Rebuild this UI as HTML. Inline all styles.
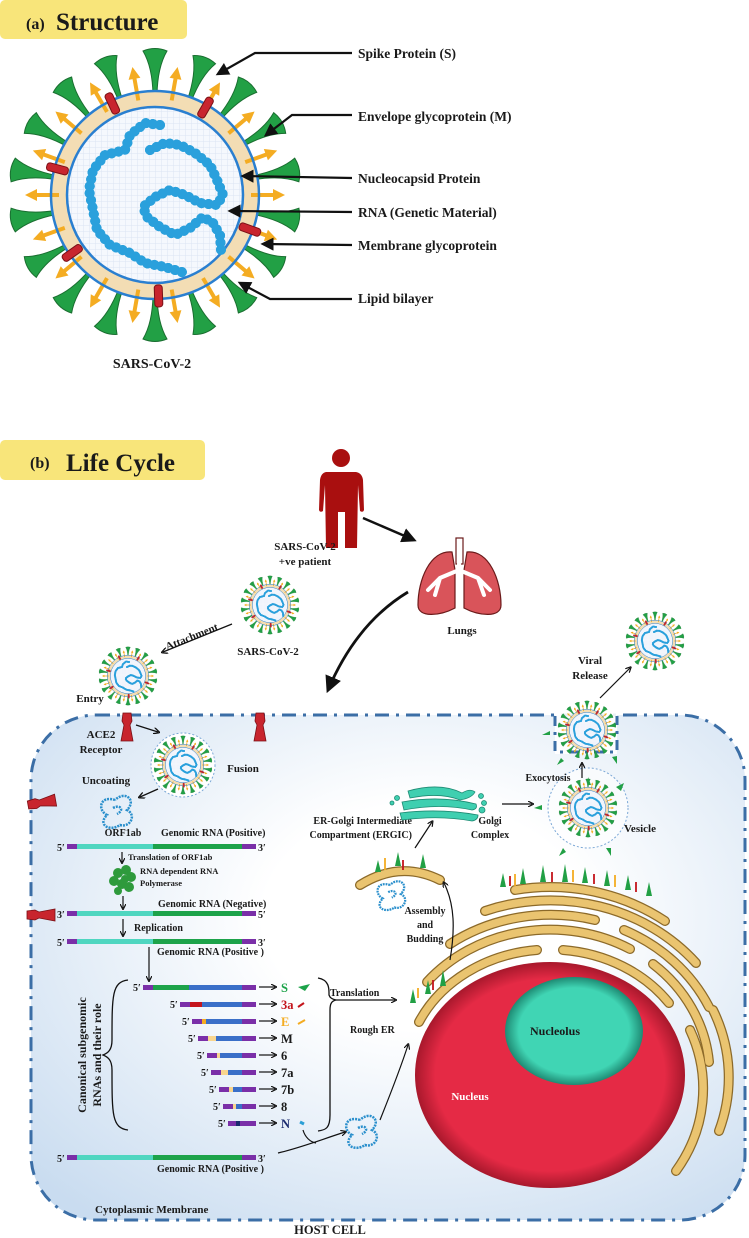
<!DOCTYPE html>
<html><head><meta charset="utf-8"><style>
html,body{margin:0;padding:0;background:#fff}
svg{display:block}
text{font-family:"Liberation Serif",serif;font-weight:bold;fill:#1a1a1a}
</style></head><body>
<svg width="749" height="1238" viewBox="0 0 749 1238" xmlns="http://www.w3.org/2000/svg">
<defs>
<marker id="ah" viewBox="0 0 10 10" refX="8" refY="5" markerWidth="6" markerHeight="6" orient="auto"><path d="M0,0 L10,5 L0,10 z" fill="#111"/></marker>
<marker id="ahb" viewBox="0 0 10 10" refX="7" refY="5" markerWidth="5" markerHeight="5" orient="auto"><path d="M0,0 L10,5 L0,10" fill="none" stroke="#111" stroke-width="2"/></marker>
<radialGradient id="cellg" cx="0.55" cy="0.4" r="0.75"><stop offset="0.3" stop-color="#ffffff"/><stop offset="1" stop-color="#c9dcf0"/></radialGradient>
<radialGradient id="nucg" cx="0.5" cy="0.5" r="0.5"><stop offset="0.85" stop-color="#e52a45"/><stop offset="1" stop-color="#a8182c"/></radialGradient>
<radialGradient id="nolg" cx="0.5" cy="0.5" r="0.5"><stop offset="0.8" stop-color="#40d5b4"/><stop offset="1" stop-color="#1e8a73"/></radialGradient>
<pattern id="grid" width="6" height="6" patternUnits="userSpaceOnUse"><rect width="6" height="6" fill="#f5f8fd"/><path d="M0,0H6M0,0V6" stroke="#dbe4f2" stroke-width="1"/></pattern>
<g id="spk"><path d="M-2,-100 L2,-100 Q2.5,-128 12,-144 Q0,-149 -12,-144 Q-2.5,-128 -2,-100Z" fill="#22a045" stroke="#1a6e30" stroke-width="1"/></g>
<g id="mp"><rect x="-2" y="-120" width="4" height="24" fill="#f4ac22"/><path d="M-6,-118 L0,-130 L6,-118Z" fill="#f4ac22"/></g>
<g id="rb"><rect x="-4" y="-112" width="8" height="22" rx="3" fill="#c8252e" stroke="#7a1016" stroke-width="1"/></g>
<g id="vir">
<g><use href="#spk"/><use href="#spk" transform="rotate(20)"/><use href="#spk" transform="rotate(40)"/><use href="#spk" transform="rotate(60)"/><use href="#spk" transform="rotate(80)"/><use href="#spk" transform="rotate(100)"/><use href="#spk" transform="rotate(120)"/><use href="#spk" transform="rotate(140)"/><use href="#spk" transform="rotate(160)"/><use href="#spk" transform="rotate(180)"/><use href="#spk" transform="rotate(200)"/><use href="#spk" transform="rotate(220)"/><use href="#spk" transform="rotate(240)"/><use href="#spk" transform="rotate(260)"/><use href="#spk" transform="rotate(280)"/><use href="#spk" transform="rotate(300)"/><use href="#spk" transform="rotate(320)"/><use href="#spk" transform="rotate(340)"/></g>
<circle r="96" fill="none" stroke="#f3ddb4" stroke-width="16"/>
<g transform="rotate(10)"><use href="#mp"/><use href="#mp" transform="rotate(20)"/><use href="#mp" transform="rotate(40)"/><use href="#mp" transform="rotate(60)"/><use href="#mp" transform="rotate(80)"/><use href="#mp" transform="rotate(100)"/><use href="#mp" transform="rotate(120)"/><use href="#mp" transform="rotate(140)"/><use href="#mp" transform="rotate(160)"/><use href="#mp" transform="rotate(180)"/><use href="#mp" transform="rotate(200)"/><use href="#mp" transform="rotate(220)"/><use href="#mp" transform="rotate(240)"/><use href="#mp" transform="rotate(260)"/><use href="#mp" transform="rotate(280)"/><use href="#mp" transform="rotate(300)"/><use href="#mp" transform="rotate(320)"/><use href="#mp" transform="rotate(340)"/></g>
<circle r="104" fill="none" stroke="#2a7fd0" stroke-width="2.5"/>
<circle r="88" fill="url(#grid)" stroke="#2a7fd0" stroke-width="2.5"/>
<use href="#rb" transform="rotate(-25)"/><use href="#rb" transform="rotate(30)"/><use href="#rb" transform="rotate(-75)"/><use href="#rb" transform="rotate(110)"/><use href="#rb" transform="rotate(-125)"/><use href="#rb" transform="rotate(178)"/>
<path id="rna" d="M5,-70 L-10,-72 L-25,-60 L-30,-45 L-50,-40 L-62,-25 L-66,-5 L-62,15 L-58,35 L-45,50 L-25,58 L-10,68 L10,72 L30,78 M-5,-45 L10,-52 L25,-50 L40,-42 L55,-30 L62,-15 L68,0 L62,10 L45,8 L30,0 L15,-5 L0,2 L-12,12 L-8,22 L5,32 L20,40 L35,33 L48,22 L58,28 L65,40 L66,55" fill="none" stroke="#2aa0dc" stroke-width="10" stroke-linecap="round" stroke-linejoin="round" stroke-dasharray="0.1 7"/>
<use href="#rna" stroke="#e23a4a" stroke-width="1.5" stroke-dasharray="none"/>
</g>
<g id="blob"><path d="M0,0 C-15,-5 -18,10 -8,15 C-18,25 -5,32 5,25 C15,28 22,15 12,10 C22,0 10,-10 0,0 M-2,8 C5,4 10,10 2,14" fill="none" stroke="#2a8fcc" stroke-width="2.5" stroke-dasharray="2 1"/></g>
<g id="ace"><path d="M-4,0 L4,0 L5,8 L3,12 L6,28 L-6,28 L-3,12 L-5,8Z" fill="#c8252e" stroke="#7a1016" stroke-width="0.8"/></g>
</defs>

<rect x="0" y="0" width="187" height="39" rx="5" fill="#f8e57a"/>
<text x="26" y="29" font-size="16">(a)</text><text x="56" y="30" font-size="25">Structure</text>
<use href="#vir" transform="translate(155,195)"/>
<text x="152" y="368" font-size="14" text-anchor="middle">SARS-CoV-2</text>
<g fill="none" stroke="#111" stroke-width="2.2" marker-end="url(#ah)">
<polyline points="352,53 255,53 218,74"/>
<polyline points="352,115 292,115 266,135"/>
<polyline points="352,178 243,176"/>
<polyline points="352,212 230,211"/>
<polyline points="352,245 263,244"/>
<polyline points="352,299 270,299 240,283"/>
</g>
<g font-size="13.5">
<text x="358" y="58">Spike Protein (S)</text>
<text x="358" y="121">Envelope glycoprotein (M)</text>
<text x="358" y="183">Nucleocapsid Protein</text>
<text x="358" y="217">RNA (Genetic Material)</text>
<text x="358" y="250">Membrane glycoprotein</text>
<text x="358" y="303">Lipid bilayer</text>
</g>

<rect x="0" y="440" width="205" height="40" rx="5" fill="#f8e57a"/>
<text x="30" y="468" font-size="16">(b)</text><text x="66" y="471" font-size="25">Life Cycle</text>

<circle cx="341" cy="458" r="9" fill="#a90f0f"/>
<path d="M326,472 L356,472 Q362,473 363,480 L364,510 Q363,513 360,511 L358,485 L357,548 L345,548 L345,512 L338,512 L338,548 L326,548 L325,485 L323,511 Q320,513 319,510 L320,480 Q321,473 326,472Z" fill="#a90f0f"/>
<text x="305" y="550" font-size="11" text-anchor="middle">SARS-CoV-2</text>
<text x="305" y="565" font-size="11" text-anchor="middle">+ve patient</text>
<line x1="363" y1="518" x2="414" y2="540" stroke="#111" stroke-width="2.5" marker-end="url(#ah)"/>
<rect x="456" y="538" width="7" height="26" fill="#fff" stroke="#6b1a1a" stroke-width="1.2"/>
<path d="M452,552 C430,550 418,580 418,605 C418,618 440,616 455,608 L455,570Z" fill="#d9545a" stroke="#6b1a1a" stroke-width="1.2"/>
<path d="M467,552 C489,550 501,580 501,605 C501,618 479,616 464,608 L464,570Z" fill="#d9545a" stroke="#6b1a1a" stroke-width="1.2"/>
<path d="M459,564 L459,570 M459,570 L440,578 L428,590 M440,578 L435,595 M459,570 L478,578 L490,590 M478,578 L484,595" stroke="#fff" stroke-width="4" fill="none" stroke-linecap="round"/>
<text x="462" y="634" font-size="11" text-anchor="middle">Lungs</text>
<path d="M408,592 C370,615 345,650 328,690" fill="none" stroke="#111" stroke-width="2.8" marker-end="url(#ah)"/>

<rect x="31" y="715" width="714" height="505" rx="65" fill="url(#cellg)" stroke="#3b6ea6" stroke-width="3" stroke-dasharray="14 7 3 7"/>
<rect x="555" y="702" width="62" height="52" fill="#fff" opacity="0.9"/>
<path d="M555,716 L555,752 L617,752 L617,716" fill="none" stroke="#3b6ea6" stroke-width="3" stroke-dasharray="10 6 3 6"/>

<use href="#ace" transform="translate(127,713)"/>
<use href="#ace" transform="translate(260,713)"/>
<use href="#ace" transform="translate(28,805) rotate(-100)"/>
<use href="#ace" transform="translate(27,915) rotate(-90)"/>

<use href="#vir" transform="translate(270,605) scale(0.2)"/>
<text x="268" y="655" font-size="11" text-anchor="middle">SARS-CoV-2</text>
<text x="193" y="640" font-size="11" transform="rotate(-22 193 640)" text-anchor="middle">Attachment</text>
<line x1="232" y1="624" x2="163" y2="652" stroke="#111" stroke-width="1.3" marker-end="url(#ahb)"/>
<use href="#vir" transform="translate(128,676) scale(0.2)"/>
<text x="90" y="702" font-size="11" text-anchor="middle">Entry</text>
<text x="101" y="738" font-size="11" text-anchor="middle">ACE2</text>
<text x="101" y="753" font-size="11" text-anchor="middle">Receptor</text>
<line x1="136" y1="725" x2="158" y2="732" stroke="#111" stroke-width="1.3" marker-end="url(#ahb)"/>
<circle cx="183" cy="765" r="32" fill="#fff" stroke="#7aa7d6" stroke-width="1" stroke-dasharray="2 2"/>
<use href="#vir" transform="translate(183,765) scale(0.2)"/>
<text x="243" y="772" font-size="11" text-anchor="middle">Fusion</text>
<text x="106" y="784" font-size="11" text-anchor="middle">Uncoating</text>
<line x1="158" y1="789" x2="140" y2="797" stroke="#111" stroke-width="1.3" marker-end="url(#ahb)"/>
<use href="#blob" transform="translate(115,800)"/>

<g font-size="10">
<text x="57" y="851">5′</text><text x="258" y="851">3′</text>
<text x="123" y="836" text-anchor="middle" font-size="10">ORF1ab</text>
<text x="161" y="836">Genomic RNA (Positive)</text>
</g>
<g>
<rect x="67" y="844" width="10" height="5" fill="#7a2fa8"/><rect x="77" y="844" width="76" height="5" fill="#4fd6c0"/><rect x="153" y="844" width="89" height="5" fill="#1da34a"/><rect x="242" y="844" width="14" height="5" fill="#7a2fa8"/>
<rect x="67" y="911" width="10" height="5" fill="#7a2fa8"/><rect x="77" y="911" width="76" height="5" fill="#4fd6c0"/><rect x="153" y="911" width="89" height="5" fill="#1da34a"/><rect x="242" y="911" width="14" height="5" fill="#7a2fa8"/>
<rect x="67" y="939" width="10" height="5" fill="#7a2fa8"/><rect x="77" y="939" width="76" height="5" fill="#4fd6c0"/><rect x="153" y="939" width="89" height="5" fill="#1da34a"/><rect x="242" y="939" width="14" height="5" fill="#7a2fa8"/>
<rect x="67" y="1155" width="10" height="5" fill="#7a2fa8"/><rect x="77" y="1155" width="76" height="5" fill="#4fd6c0"/><rect x="153" y="1155" width="89" height="5" fill="#1da34a"/><rect x="242" y="1155" width="14" height="5" fill="#7a2fa8"/>
</g>
<line x1="122" y1="852" x2="122" y2="862" stroke="#111" stroke-width="1.2" marker-end="url(#ahb)"/>
<text x="128" y="860" font-size="8.5">Translation of ORF1ab</text>
<g fill="#2e9a3c"><circle cx="118" cy="873" r="5"/><circle cx="126" cy="870" r="5"/><circle cx="131" cy="877" r="5"/><circle cx="114" cy="881" r="5"/><circle cx="122" cy="884" r="5"/><circle cx="129" cy="887" r="5"/><circle cx="118" cy="891" r="4"/><circle cx="125" cy="879" r="4"/></g>
<text x="140" y="874" font-size="8.5">RNA dependent RNA</text>
<text x="140" y="886" font-size="8.5">Polymerase</text>
<line x1="123" y1="896" x2="123" y2="908" stroke="#111" stroke-width="1.2" marker-end="url(#ahb)"/>
<g font-size="10">
<text x="57" y="918">3′</text><text x="258" y="918">5′</text>
<text x="158" y="907">Genomic RNA (Negative)</text>
<line x1="123" y1="919" x2="123" y2="935" stroke="#111" stroke-width="1.2" marker-end="url(#ahb)"/>
<text x="134" y="931">Replication</text>
<text x="57" y="946">5′</text><text x="258" y="946">3′</text>
<text x="157" y="955">Genomic RNA (Positive )</text>
<line x1="149" y1="947" x2="149" y2="980" stroke="#111" stroke-width="1.2" marker-end="url(#ahb)"/>
<text x="57" y="1162">5′</text><text x="258" y="1162">3′</text>
<text x="157" y="1172">Genomic RNA (Positive )</text>
</g>

<g>
<rect x="143" y="985" width="10" height="5" fill="#7a2fa8"/><rect x="153" y="985" width="36" height="5" fill="#1da34a"/><rect x="189" y="985" width="53" height="5" fill="#3a6fc8"/><rect x="242" y="985" width="14" height="5" fill="#7a2fa8"/>
<rect x="180" y="1002" width="10" height="5" fill="#7a2fa8"/><rect x="190" y="1002" width="12" height="5" fill="#c4151c"/><rect x="202" y="1002" width="40" height="5" fill="#3a6fc8"/><rect x="242" y="1002" width="14" height="5" fill="#7a2fa8"/>
<rect x="192" y="1019" width="10" height="5" fill="#7a2fa8"/><rect x="202" y="1019" width="4" height="5" fill="#f4ac22"/><rect x="206" y="1019" width="36" height="5" fill="#3a6fc8"/><rect x="242" y="1019" width="14" height="5" fill="#7a2fa8"/>
<rect x="198" y="1036" width="10" height="5" fill="#7a2fa8"/><rect x="208" y="1036" width="8" height="5" fill="#f8d58e"/><rect x="216" y="1036" width="26" height="5" fill="#3a6fc8"/><rect x="242" y="1036" width="14" height="5" fill="#7a2fa8"/>
<rect x="207" y="1053" width="10" height="5" fill="#7a2fa8"/><rect x="217" y="1053" width="3" height="5" fill="#f8d58e"/><rect x="220" y="1053" width="22" height="5" fill="#3a6fc8"/><rect x="242" y="1053" width="14" height="5" fill="#7a2fa8"/>
<rect x="211" y="1070" width="10" height="5" fill="#7a2fa8"/><rect x="221" y="1070" width="7" height="5" fill="#f8d58e"/><rect x="228" y="1070" width="14" height="5" fill="#3a6fc8"/><rect x="242" y="1070" width="14" height="5" fill="#7a2fa8"/>
<rect x="219" y="1087" width="10" height="5" fill="#7a2fa8"/><rect x="229" y="1087" width="4" height="5" fill="#f8d58e"/><rect x="233" y="1087" width="9" height="5" fill="#3a6fc8"/><rect x="242" y="1087" width="14" height="5" fill="#7a2fa8"/>
<rect x="223" y="1104" width="10" height="5" fill="#7a2fa8"/><rect x="233" y="1104" width="3" height="5" fill="#f8d58e"/><rect x="236" y="1104" width="6" height="5" fill="#3a6fc8"/><rect x="242" y="1104" width="14" height="5" fill="#7a2fa8"/>
<rect x="228" y="1121" width="8" height="5" fill="#7a2fa8"/><rect x="236" y="1121" width="4" height="5" fill="#1a2a6e"/><rect x="240" y="1121" width="16" height="5" fill="#7a2fa8"/>
</g>
<g font-size="10">
<text x="133" y="991">5′</text><text x="170" y="1008">5′</text><text x="182" y="1025">5′</text><text x="188" y="1042">5′</text><text x="197" y="1059">5′</text><text x="201" y="1076">5′</text><text x="209" y="1093">5′</text><text x="213" y="1110">5′</text><text x="218" y="1127">5′</text>
</g>
<g stroke="#111" stroke-width="1.2" marker-end="url(#ahb)">
<line x1="259" y1="987" x2="275" y2="987"/><line x1="259" y1="1004" x2="275" y2="1004"/><line x1="259" y1="1021" x2="275" y2="1021"/><line x1="259" y1="1038" x2="275" y2="1038"/><line x1="259" y1="1055" x2="275" y2="1055"/><line x1="259" y1="1072" x2="275" y2="1072"/><line x1="259" y1="1089" x2="275" y2="1089"/><line x1="259" y1="1106" x2="275" y2="1106"/><line x1="259" y1="1123" x2="275" y2="1123"/>
</g>
<g font-size="12.5">
<text x="281" y="992" style="fill:#1da34a">S</text>
<text x="281" y="1009" style="fill:#c4151c">3a</text>
<text x="281" y="1026" style="fill:#f4ac22">E</text>
<text x="281" y="1043">M</text>
<text x="281" y="1060">6</text>
<text x="281" y="1077">7a</text>
<text x="281" y="1094">7b</text>
<text x="281" y="1111">8</text>
<text x="281" y="1128" style="fill:#1a2a6e">N</text>
</g>
<path d="M298,987 L310,984 L305,991Z" fill="#1da34a"/>
<line x1="298" y1="1007" x2="304" y2="1003" stroke="#c4151c" stroke-width="2"/>
<line x1="298" y1="1024" x2="305" y2="1020" stroke="#f4ac22" stroke-width="2"/>
<path d="M300,1122 l4,2" stroke="#2a9fd6" stroke-width="3"/>
<path d="M128,980 C112,982 112,995 112,1040 C112,1050 108,1053 103,1055 C108,1057 112,1060 112,1070 C112,1115 112,1128 128,1130" fill="none" stroke="#111" stroke-width="1.3"/>
<path d="M318,978 C330,980 329,990 329,995 C330,998 332,999 336,1000 C332,1001 330,1003 330,1010 L330,1115 C330,1128 326,1130 318,1131" fill="none" stroke="#111" stroke-width="1.3"/>
<text x="86" y="1055" font-size="12" text-anchor="middle" transform="rotate(-90 86 1055)">Canonical subgenomic</text>
<text x="101" y="1055" font-size="12" text-anchor="middle" transform="rotate(-90 101 1055)">RNAs and their role</text>
<line x1="336" y1="1000" x2="395" y2="1000" stroke="#111" stroke-width="1.2" marker-end="url(#ahb)"/>
<text x="330" y="996" font-size="10">Translation</text>
<text x="350" y="1033" font-size="10">Rough ER</text>
<path d="M278,1153 C300,1148 320,1140 345,1132" fill="none" stroke="#111" stroke-width="1.2" marker-end="url(#ahb)"/>
<path d="M303,1130 C305,1137 310,1142 316,1143" fill="none" stroke="#111" stroke-width="1.2"/>
<use href="#blob" transform="translate(360,1120)"/>
<path d="M380,1120 C390,1095 400,1070 408,1045" fill="none" stroke="#111" stroke-width="1.2" marker-end="url(#ahb)"/>

<ellipse cx="550" cy="1075" rx="135" ry="113" fill="url(#nucg)"/>
<ellipse cx="574" cy="1031" rx="69" ry="54" fill="url(#nolg)"/>
<text x="555" y="1035" font-size="12" text-anchor="middle">Nucleolus</text>
<text x="470" y="1100" font-size="11" text-anchor="middle" style="fill:#fff">Nucleus</text>

<g fill="none" stroke-linecap="round">
<g stroke="#8c6a2a" stroke-width="10">
<path d="M419,1022 A145,125 0 0 1 537,950"/><path d="M563,950 A145,125 0 0 1 669,1003"/>
<path d="M427,982 A160,145 0 0 1 630,949"/><path d="M653,964 A160,145 0 0 1 709,1062"/>
<path d="M450,944 A175,160 0 0 1 595,920"/><path d="M624,930 A175,160 0 0 1 709,1007"/>
<path d="M485,911 A190,175 0 0 1 696,963"/>
<path d="M515,890 A200,188 0 0 1 665,921"/>
<path d="M690,1030 A165,150 0 0 1 676,1171"/><path d="M713,1010 A180,165 0 0 1 719,1131"/>
<path d="M360,885 Q400,860 440,880"/>
</g>
<g stroke="#eac470" stroke-width="7.5">
<path d="M419,1022 A145,125 0 0 1 537,950"/><path d="M563,950 A145,125 0 0 1 669,1003"/>
<path d="M427,982 A160,145 0 0 1 630,949"/><path d="M653,964 A160,145 0 0 1 709,1062"/>
<path d="M450,944 A175,160 0 0 1 595,920"/><path d="M624,930 A175,160 0 0 1 709,1007"/>
<path d="M485,911 A190,175 0 0 1 696,963"/>
<path d="M515,890 A200,188 0 0 1 665,921"/>
<path d="M690,1030 A165,150 0 0 1 676,1171"/><path d="M713,1010 A180,165 0 0 1 719,1131"/>
<path d="M360,885 Q400,860 440,880"/>
</g>
</g>
<g fill="#22a045">
<path d="M500,887 l3,-14 l3,14z"/><path d="M520,884 l3,-16 l3,16z"/><path d="M540,882 l3,-17 l3,17z"/><path d="M562,882 l3,-18 l3,18z"/><path d="M582,883 l3,-16 l3,16z"/><path d="M604,886 l3,-16 l3,16z"/><path d="M625,890 l3,-15 l3,15z"/><path d="M646,896 l3,-14 l3,14z"/>
<path d="M410,1003 l3,-14 l3,14z"/><path d="M425,994 l3,-14 l3,14z"/><path d="M440,986 l3,-16 l3,16z"/>
<path d="M375,872 l3,-12 l3,12z"/><path d="M395,866 l3,-14 l3,14z"/><path d="M420,868 l3,-14 l3,14z"/>
</g>
<g stroke-width="1.8">
<path d="M510,886 v-10 M552,882 v-10 M594,884 v-10 M636,892 v-10 M403,870 v-10 M433,990 v-10" stroke="#c4151c"/>
<path d="M515,886 v-12 M573,882 v-12 M615,887 v-12 M385,870 v-12 M418,998 v-10" stroke="#f4ac22"/>
</g>
<use href="#blob" transform="translate(390,885) scale(0.9)"/>
<text x="425" y="914" font-size="10" text-anchor="middle">Assembly</text>
<text x="425" y="928" font-size="10" text-anchor="middle">and</text>
<text x="425" y="942" font-size="10" text-anchor="middle">Budding</text>
<path d="M450,960 C455,930 455,905 444,883" fill="none" stroke="#111" stroke-width="1.2" marker-end="url(#ahb)"/>
<line x1="415" y1="848" x2="432" y2="822" stroke="#111" stroke-width="1.2" marker-end="url(#ahb)"/>
<text x="412" y="824" font-size="10" text-anchor="end">ER-Golgi Intermediate</text>
<text x="412" y="838" font-size="10" text-anchor="end">Compartment (ERGIC)</text>
<g fill="#3fcfb0" stroke="#1e8a73" stroke-width="0.8">
<path d="M408,791 Q440,782 462,793 Q470,788 475,792 Q472,798 460,800 Q440,792 410,798Z"/>
<path d="M402,802 Q440,795 476,804 Q478,809 472,810 Q440,803 404,810Z"/>
<path d="M400,813 Q440,808 478,815 Q478,820 472,821 Q440,815 402,820Z"/>
<circle cx="397" cy="798" r="2.5"/><circle cx="392" cy="803" r="2"/><circle cx="481" cy="796" r="2.5"/><circle cx="484" cy="803" r="2.5"/><circle cx="482" cy="810" r="3"/>
</g>
<text x="490" y="824" font-size="10" text-anchor="middle">Golgi</text>
<text x="490" y="838" font-size="10" text-anchor="middle">Complex</text>
<line x1="502" y1="804" x2="532" y2="804" stroke="#111" stroke-width="1.2" marker-end="url(#ahb)"/>
<circle cx="588" cy="808" r="40" fill="#fff" fill-opacity="0.6" stroke="#7aa7d6" stroke-width="1" stroke-dasharray="2 2"/>
<use href="#vir" transform="translate(588,808) scale(0.2)"/>
<g fill="#22a045"><path d="M542,810 l-8,-2 l8,-3z"/><path d="M616,787 l8,-4 l-3,8z"/><path d="M563,848 l-4,8 l7,-4z"/><path d="M606,848 l5,8 l0,-8z"/><path d="M588,785 l0,-8 l3,8z"/></g>
<text x="640" y="832" font-size="11" text-anchor="middle">Vesicle</text>
<text x="548" y="781" font-size="10" text-anchor="middle">Exocytosis</text>
<line x1="582" y1="778" x2="582" y2="764" stroke="#111" stroke-width="1.2" marker-end="url(#ahb)"/>
<use href="#vir" transform="translate(587,730) scale(0.2)"/>
<g fill="#22a045"><path d="M550,735 l-8,0 l8,-4z"/><path d="M561,758 l-4,7 l7,-4z"/><path d="M612,757 l5,7 l0,-8z"/></g>
<text x="590" y="664" font-size="11" text-anchor="middle">Viral</text>
<text x="590" y="679" font-size="11" text-anchor="middle">Release</text>
<line x1="600" y1="698" x2="630" y2="668" stroke="#111" stroke-width="1.2" marker-end="url(#ahb)"/>
<use href="#vir" transform="translate(655,641) scale(0.2)"/>

<text x="95" y="1213" font-size="11">Cytoplasmic Membrane</text>
<text x="330" y="1234" font-size="12.5" text-anchor="middle">HOST CELL</text>
</svg>
</body></html>
